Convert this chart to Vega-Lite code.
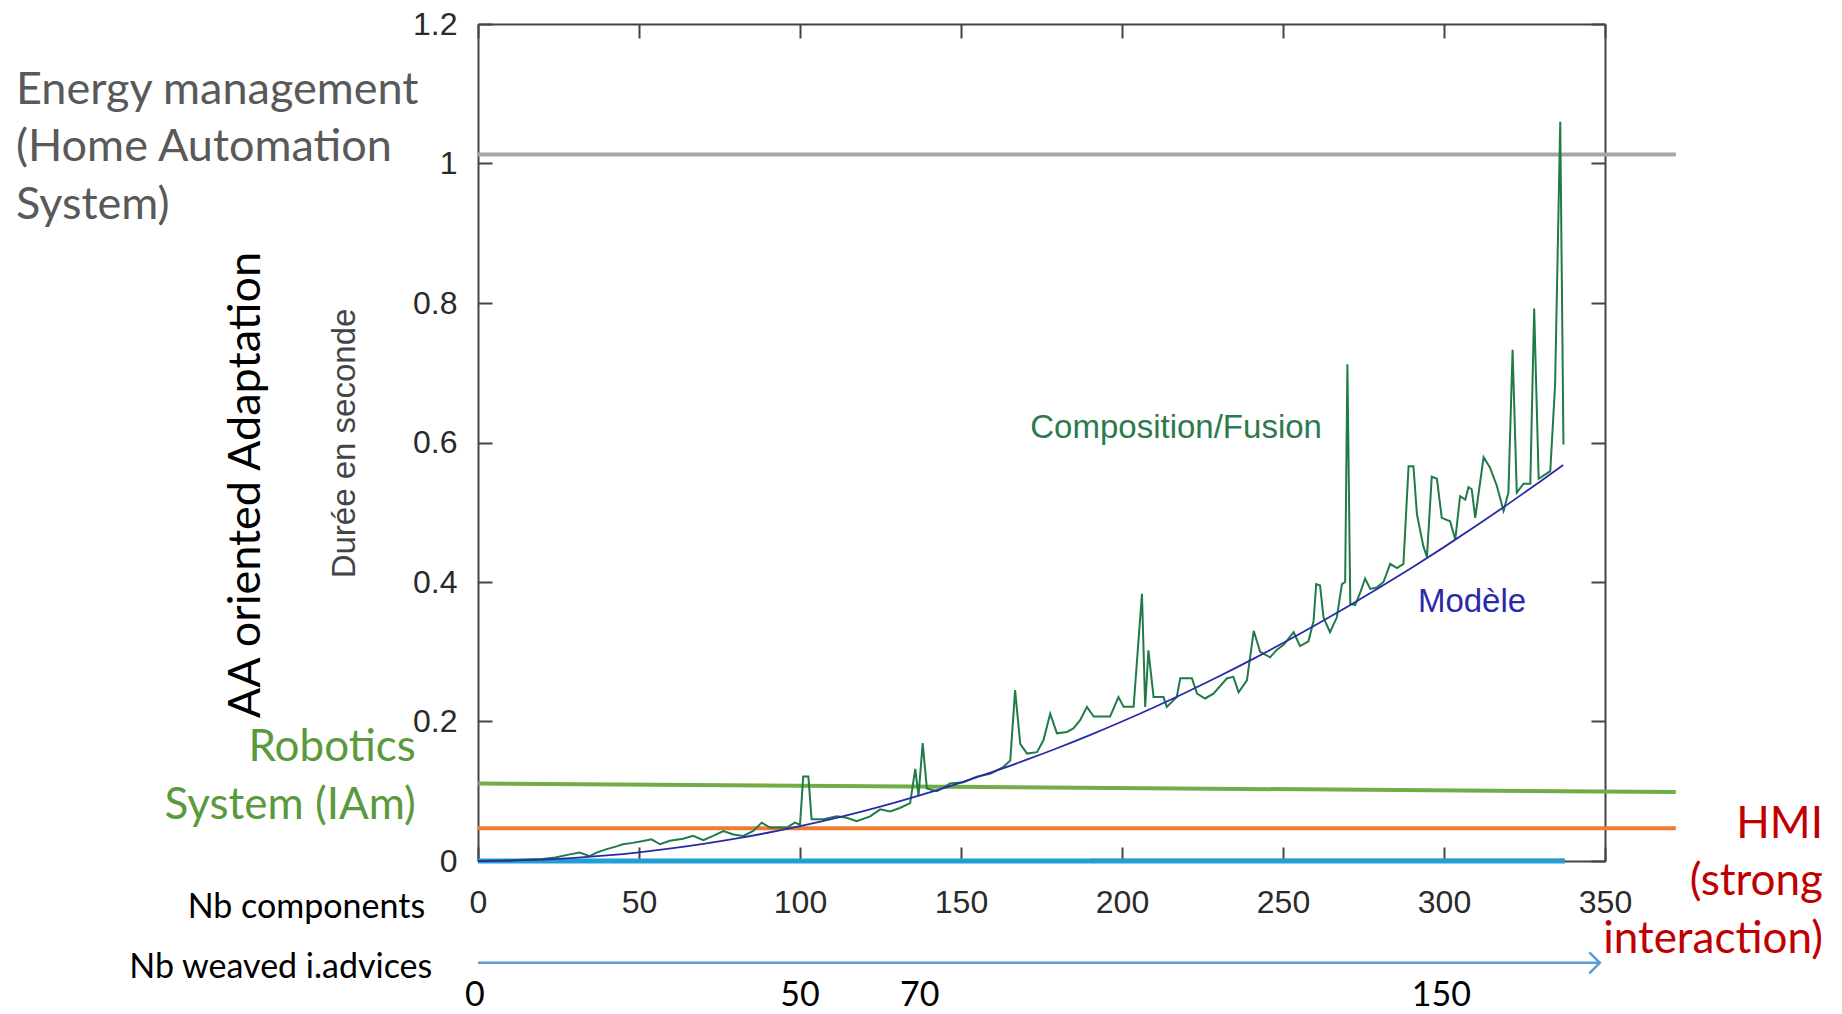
{
  "$schema": "https://vega.github.io/schema/vega-lite/v6.json",
  "width": 1127,
  "height": 837,
  "autosize": {"type": "none"},
  "padding": {"left": 478, "top": 24, "right": 237, "bottom": 153},
  "background": "white",
  "config": {"view": {"stroke": null}, "axis": {"grid": false}},
  "datasets": {
    "fusion": [
      {"x":0,"y":0},{"x":10,"y":0.001},{"x":20,"y":0.003},{"x":24,"y":0.005},{"x":28.5,"y":0.0095},{"x":31.6,"y":0.012},{"x":34.7,"y":0.007},{"x":36.8,"y":0.012},{"x":40,"y":0.017},{"x":43,"y":0.021},{"x":45,"y":0.024},{"x":48,"y":0.026},{"x":51.3,"y":0.0286},{"x":53.9,"y":0.031},{"x":56.5,"y":0.024},{"x":59.6,"y":0.029},{"x":63.7,"y":0.032},{"x":66.8,"y":0.036},{"x":70,"y":0.03},{"x":73,"y":0.036},{"x":76.2,"y":0.043},{"x":79.3,"y":0.038},{"x":82.4,"y":0.036},{"x":85.5,"y":0.043},{"x":88.1,"y":0.055},{"x":90.7,"y":0.048},{"x":95.9,"y":0.048},{"x":98.4,"y":0.055},{"x":100,"y":0.052},{"x":101,"y":0.121},{"x":102.6,"y":0.121},{"x":103.6,"y":0.06},{"x":107.3,"y":0.06},{"x":111.4,"y":0.064},{"x":114.5,"y":0.062},{"x":117.6,"y":0.057},{"x":121.8,"y":0.064},{"x":124.9,"y":0.074},{"x":128,"y":0.071},{"x":131,"y":0.076},{"x":134.2,"y":0.083},{"x":135.8,"y":0.132},{"x":136.8,"y":0.093},{"x":138.1,"y":0.169},{"x":139.4,"y":0.104},{"x":142.5,"y":0.1},{"x":146.6,"y":0.111},{"x":150.8,"y":0.113},{"x":154.9,"y":0.121},{"x":159.1,"y":0.125},{"x":163.2,"y":0.135},{"x":165.3,"y":0.144},{"x":166.8,"y":0.245},{"x":168.4,"y":0.168},{"x":170.5,"y":0.154},{"x":173.6,"y":0.156},{"x":175.6,"y":0.173},{"x":177.7,"y":0.211},{"x":179.8,"y":0.183},{"x":182.9,"y":0.185},{"x":184.9,"y":0.19},{"x":187,"y":0.202},{"x":189.1,"y":0.221},{"x":191.2,"y":0.207},{"x":196.3,"y":0.207},{"x":198.9,"y":0.235},{"x":200.5,"y":0.221},{"x":203.6,"y":0.221},{"x":206.2,"y":0.383},{"x":207.2,"y":0.221},{"x":208.2,"y":0.302},{"x":209.8,"y":0.235},{"x":212.9,"y":0.235},{"x":213.9,"y":0.221},{"x":217,"y":0.235},{"x":218.1,"y":0.262},{"x":221.7,"y":0.262},{"x":223.3,"y":0.24},{"x":225.8,"y":0.233},{"x":228.4,"y":0.24},{"x":232.6,"y":0.262},{"x":234.6,"y":0.264},{"x":236.2,"y":0.242},{"x":238.8,"y":0.259},{"x":240.9,"y":0.33},{"x":242.9,"y":0.3},{"x":246,"y":0.292},{"x":248.1,"y":0.303},{"x":250.2,"y":0.31},{"x":253.3,"y":0.328},{"x":255.3,"y":0.308},{"x":257.9,"y":0.315},{"x":259.5,"y":0.344},{"x":260.3,"y":0.397},{"x":261.5,"y":0.395},{"x":262.6,"y":0.349},{"x":264.6,"y":0.328},{"x":266.7,"y":0.349},{"x":268.3,"y":0.397},{"x":269.3,"y":0.4},{"x":270,"y":0.712},{"x":270.9,"y":0.369},{"x":272.4,"y":0.367},{"x":274,"y":0.385},{"x":275.5,"y":0.405},{"x":277.1,"y":0.39},{"x":279.1,"y":0.392},{"x":281.2,"y":0.4},{"x":283.3,"y":0.426},{"x":285.4,"y":0.42},{"x":287.4,"y":0.426},{"x":289,"y":0.566},{"x":290.5,"y":0.566},{"x":291.6,"y":0.497},{"x":293.6,"y":0.451},{"x":294.7,"y":0.436},{"x":296.2,"y":0.551},{"x":297.8,"y":0.548},{"x":299.3,"y":0.492},{"x":301.9,"y":0.487},{"x":303.5,"y":0.461},{"x":305,"y":0.523},{"x":306.6,"y":0.518},{"x":307.6,"y":0.536},{"x":308.6,"y":0.533},{"x":309.7,"y":0.492},{"x":312.3,"y":0.579},{"x":314.3,"y":0.564},{"x":316.4,"y":0.538},{"x":318.5,"y":0.502},{"x":320,"y":0.528},{"x":321.3,"y":0.733},{"x":322.6,"y":0.528},{"x":324.7,"y":0.541},{"x":326.8,"y":0.541},{"x":328,"y":0.792},{"x":329.4,"y":0.548},{"x":333,"y":0.559},{"x":334.5,"y":0.682},{"x":336.1,"y":1.06},{"x":337.1,"y":0.597}
    ],
    "modele": [
      {"x":0,"y":0},{"x":10,"y":0.0005},{"x":20,"y":0.002},{"x":30,"y":0.0045},{"x":40,"y":0.008},{"x":50,"y":0.0125},{"x":60,"y":0.018},{"x":70,"y":0.0245},{"x":80,"y":0.032},{"x":90,"y":0.0405},{"x":100,"y":0.05},{"x":110,"y":0.0605},{"x":120,"y":0.072},{"x":130,"y":0.0845},{"x":140,"y":0.098},{"x":150,"y":0.1125},{"x":160,"y":0.128},{"x":170,"y":0.1445},{"x":180,"y":0.162},{"x":190,"y":0.1805},{"x":200,"y":0.2},{"x":210,"y":0.2205},{"x":220,"y":0.242},{"x":230,"y":0.2645},{"x":240,"y":0.288},{"x":250,"y":0.3125},{"x":260,"y":0.338},{"x":270,"y":0.3645},{"x":280,"y":0.392},{"x":290,"y":0.4205},{"x":300,"y":0.45},{"x":310,"y":0.4805},{"x":320,"y":0.512},{"x":330,"y":0.5445},{"x":337,"y":0.5678}
    ],
    "levels": [
      {"name":"energy","x":0,"y":1.013},{"name":"energy","x":372,"y":1.013},
      {"name":"robotics","x":0,"y":0.111},{"name":"robotics","x":372,"y":0.099},
      {"name":"hmi","x":0,"y":0.047},{"name":"hmi","x":372,"y":0.047},
      {"name":"base","x":0,"y":0},{"name":"base","x":337.5,"y":0},
      {"name":"red","x":190,"y":0.0025},{"name":"red","x":337.5,"y":0.0025},
      {"name":"arrow","x":0,"y":-0.146},{"name":"arrow","x":348.4,"y":-0.146}
    ],
    "texts": [
      {"group":"energy","x":-143.5,"y":1.1057,"text":"Energy management"},
      {"group":"energy","x":-143.5,"y":1.0233,"text":"(Home Automation"},
      {"group":"energy","x":-143.5,"y":0.9408,"text":"System)"},
      {"group":"robotics","x":-19.3,"y":0.1615,"text":"Robotics"},
      {"group":"robotics","x":-19.3,"y":0.0791,"text":"System (IAm)"},
      {"group":"hmi","x":417.7,"y":0.0521,"text":"HMI"},
      {"group":"hmi","x":417.7,"y":-0.0304,"text":"(strong"},
      {"group":"hmi","x":417.7,"y":-0.1129,"text":"interaction)"},
      {"group":"aa","x":-71.9,"y":0.539,"text":"AA oriented Adaptation"},
      {"group":"nb","x":-16.4,"y":-0.0673,"text":"Nb components"},
      {"group":"nb","x":-14.2,"y":-0.1533,"text":"Nb weaved i.advices"},
      {"group":"adv","x":-1,"y":-0.1936,"text":"0"},
      {"group":"adv","x":100,"y":-0.1936,"text":"50"},
      {"group":"adv","x":137.2,"y":-0.1936,"text":"70"},
      {"group":"adv","x":299.2,"y":-0.1936,"text":"150"},
      {"group":"comp","x":216.8,"y":0.621,"text":"Composition/Fusion"},
      {"group":"mod","x":308.7,"y":0.372,"text":"Modèle"}
    ]
  },
  "encoding": {
    "x": {"field": "x", "type": "quantitative", "scale": {"domain": [0, 350], "nice": false, "zero": false}, "axis": null},
    "y": {"field": "y", "type": "quantitative", "scale": {"domain": [0, 1.2], "nice": false, "zero": false}, "axis": null}
  },
  "resolve": {"axis": {"x": "independent", "y": "independent"}},
  "layer": [
    {"data": {"name": "levels"}, "transform": [{"filter": "datum.name == 'energy'"}], "mark": {"type": "line", "color": "#a6a6a6", "strokeWidth": 4}},
    {"data": {"name": "levels"}, "transform": [{"filter": "datum.name == 'robotics'"}], "mark": {"type": "line", "color": "#70ad47", "strokeWidth": 4}},
    {"data": {"name": "levels"}, "transform": [{"filter": "datum.name == 'hmi'"}], "mark": {"type": "line", "color": "#ed7d31", "strokeWidth": 4}},
    {"data": {"name": "levels"}, "transform": [{"filter": "datum.name == 'red'"}], "mark": {"type": "line", "color": "#e06060", "strokeWidth": 1.5, "opacity": 0.8}},
    {"data": {"name": "levels"}, "transform": [{"filter": "datum.name == 'base'"}], "mark": {"type": "line", "color": "#1f9fd6", "strokeWidth": 5}},
    {"data": {"name": "levels"}, "transform": [{"filter": "datum.name == 'arrow'"}], "mark": {"type": "line", "color": "#5b9bd5", "strokeWidth": 2.5}},
    {"data": {"name": "levels"}, "transform": [{"filter": "datum.name == 'arrow' && datum.x > 0"}], "mark": {"type": "point", "shape": "M-1,-1L0,0L-1,1", "filled": false, "stroke": "#5b9bd5", "strokeWidth": 2.5, "size": 441, "opacity": 1}},
    {
      "data": {"name": "fusion"},
      "mark": {"type": "line", "color": "#1f7b48", "strokeWidth": 2},
      "encoding": {
        "x": {"field": "x", "type": "quantitative", "scale": {"domain": [0, 350], "nice": false, "zero": false},
              "axis": {"orient": "bottom", "values": [0,50,100,150,200,250,300,350], "tickSize": -14, "tickWidth": 2, "tickColor": "#444", "domainColor": "#444", "domainWidth": 2, "labelFont": "Liberation Sans", "labelFontSize": 32, "labelColor": "#2a2a2a", "labelPadding": 55, "labelBaseline": "middle", "labelFlush": false, "title": null}},
        "y": {"field": "y", "type": "quantitative", "scale": {"domain": [0, 1.2], "nice": false, "zero": false},
              "axis": {"orient": "left", "values": [0,0.2,0.4,0.6,0.8,1,1.2], "format": "~f", "tickSize": -14, "tickWidth": 2, "tickColor": "#444", "domainColor": "#444", "domainWidth": 2, "labelFont": "Liberation Sans", "labelFontSize": 32, "labelColor": "#2a2a2a", "labelPadding": 35, "labelFlush": false, "title": "Durée en seconde", "titleFont": "Liberation Sans", "titleFontSize": 33, "titleFontWeight": "normal", "titleColor": "#444", "titleAngle": 270, "titleX": -134, "titleY": 419, "titleAlign": "center", "titleBaseline": "middle"}}
      }
    },
    {
      "data": {"name": "modele"},
      "mark": {"type": "line", "color": "#2a2aa8", "strokeWidth": 1.8, "interpolate": "monotone"},
      "encoding": {
        "x": {"field": "x", "type": "quantitative", "scale": {"domain": [0, 350], "nice": false, "zero": false},
              "axis": {"orient": "top", "values": [0,50,100,150,200,250,300,350], "labels": false, "tickSize": -14, "tickWidth": 2, "tickColor": "#444", "domainColor": "#444", "domainWidth": 2, "title": null}},
        "y": {"field": "y", "type": "quantitative", "scale": {"domain": [0, 1.2], "nice": false, "zero": false},
              "axis": {"orient": "right", "values": [0,0.2,0.4,0.6,0.8,1,1.2], "labels": false, "tickSize": -14, "tickWidth": 2, "tickColor": "#444", "domainColor": "#444", "domainWidth": 2, "title": null}}
      }
    },
    {"data": {"name": "texts"}, "transform": [{"filter": "datum.group == 'energy'"}], "mark": {"type": "text", "font": "Lato", "fontSize": 45, "color": "#595959", "align": "left", "baseline": "middle"}, "encoding": {"text": {"field": "text"}}},
    {"data": {"name": "texts"}, "transform": [{"filter": "datum.group == 'robotics'"}], "mark": {"type": "text", "font": "Lato", "fontSize": 44, "color": "#5b9a3c", "align": "right", "baseline": "middle"}, "encoding": {"text": {"field": "text"}}},
    {"data": {"name": "texts"}, "transform": [{"filter": "datum.group == 'hmi'"}], "mark": {"type": "text", "font": "Lato", "fontSize": 44, "color": "#c00000", "align": "right", "baseline": "middle"}, "encoding": {"text": {"field": "text"}}},
    {"data": {"name": "texts"}, "transform": [{"filter": "datum.group == 'aa'"}], "mark": {"type": "text", "font": "Lato", "fontSize": 45, "color": "#000000", "align": "center", "baseline": "middle", "angle": 270}, "encoding": {"text": {"field": "text"}}},
    {"data": {"name": "texts"}, "transform": [{"filter": "datum.group == 'nb'"}], "mark": {"type": "text", "font": "Lato", "fontSize": 34, "color": "#000000", "align": "right", "baseline": "middle"}, "encoding": {"text": {"field": "text"}}},
    {"data": {"name": "texts"}, "transform": [{"filter": "datum.group == 'adv'"}], "mark": {"type": "text", "font": "Lato", "fontSize": 34, "color": "#000000", "align": "center", "baseline": "middle"}, "encoding": {"text": {"field": "text"}}},
    {"data": {"name": "texts"}, "transform": [{"filter": "datum.group == 'comp'"}], "mark": {"type": "text", "font": "Liberation Sans", "fontSize": 33, "color": "#2c7a4e", "align": "center", "baseline": "middle"}, "encoding": {"text": {"field": "text"}}},
    {"data": {"name": "texts"}, "transform": [{"filter": "datum.group == 'mod'"}], "mark": {"type": "text", "font": "Liberation Sans", "fontSize": 33, "color": "#2a2aa8", "align": "center", "baseline": "middle"}, "encoding": {"text": {"field": "text"}}}
  ]
}
